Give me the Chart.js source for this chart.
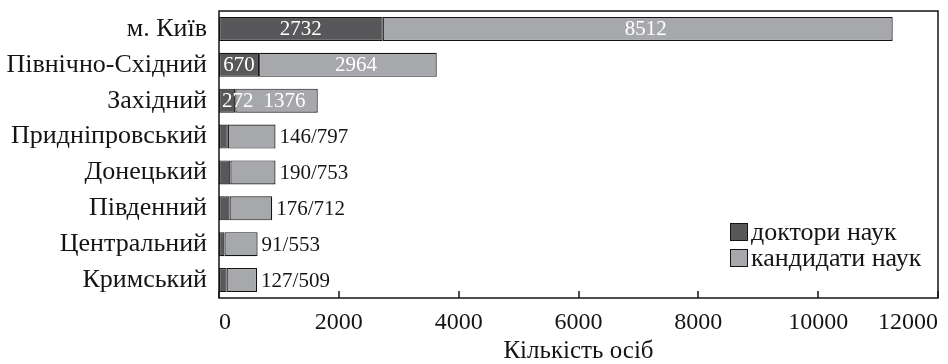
<!DOCTYPE html>
<html>
<head>
<meta charset="utf-8">
<script src="https://cdn.jsdelivr.net/npm/chart.js@4/dist/chart.umd.min.js"></script>
<style>
  body { margin: 0; background: #fff; }
</style>
</head>
<body>
<canvas id="scientistsChart" width="948" height="364"></canvas>
<script>
const regions = ['м. Київ', 'Північно-Східний', 'Західний', 'Придніпровський', 'Донецький', 'Південний', 'Центральний', 'Кримський'];
const doctors = [2732, 670, 272, 146, 190, 176, 91, 127];
const candidates = [8512, 2964, 1376, 797, 753, 712, 553, 509];
const seriesNames = ['доктори наук', 'кандидати наук'];
const axisTitle = 'Кількість осіб';
const xMax = 12000;
const xStep = 2000;

const serif = "'Liberation Serif', 'Times New Roman', serif";
const darkGrey = '#58585b';
const lightGrey = '#a7a8ab';
const ink = '#141414';

// numbers on / next to the bars
const barLabels = {
  id: 'barLabels',
  afterDatasetsDraw(chart) {
    const ctx = chart.ctx;
    const dMeta = chart.getDatasetMeta(0);
    const cMeta = chart.getDatasetMeta(1);
    ctx.save();
    ctx.font = '21px ' + serif;
    ctx.textBaseline = 'middle';
    regions.forEach((r, i) => {
      const d = dMeta.data[i];
      const c = cMeta.data[i];
      const y = d.y + 1;
      if (c.x - d.base > 80) {
        ctx.fillStyle = '#fff';
        const dw = ctx.measureText(String(doctors[i])).width;
        if (d.x - d.base > dw + 6) {
          ctx.textAlign = 'center';
          ctx.fillText(doctors[i], (d.x + d.base) / 2, y);
        } else {
          ctx.textAlign = 'left';
          ctx.fillText(doctors[i], d.base + 3, y);
        }
        ctx.textAlign = 'center';
        ctx.fillText(candidates[i], (c.x + c.base) / 2 + 8, y);
      } else {
        ctx.fillStyle = ink;
        ctx.textAlign = 'left';
        ctx.fillText(doctors[i] + '/' + candidates[i], c.x + 4, y);
      }
    });
    ctx.restore();
  }
};

// box around plot, inward ticks, legend in the lower right corner
const frame = {
  id: 'frame',
  afterDraw(chart) {
    const ctx = chart.ctx;
    const a = chart.chartArea;
    const xs = chart.scales.x;
    ctx.save();
    ctx.strokeStyle = ink;
    ctx.lineWidth = 1.5;
    ctx.strokeRect(a.left, a.top, a.right - a.left, a.bottom - a.top);
    ctx.beginPath();
    xs.ticks.forEach((t, i) => {
      const px = Math.round(xs.getPixelForTick(i));
      ctx.moveTo(px, a.bottom);
      ctx.lineTo(px, a.bottom - 7);
    });
    ctx.stroke();

    const lx = a.right - 208;
    const ly = a.bottom - 75;
    ctx.font = '26px ' + serif;
    ctx.textBaseline = 'middle';
    ctx.textAlign = 'left';
    [darkGrey, lightGrey].forEach((col, i) => {
      const top = ly + i * 26;
      ctx.fillStyle = col;
      ctx.fillRect(lx, top, 18, 18);
      ctx.lineWidth = 1;
      ctx.strokeStyle = ink;
      ctx.strokeRect(lx + 0.5, top + 0.5, 17, 17);
      ctx.fillStyle = ink;
      ctx.fillText(seriesNames[i], lx + 21, top + 10);
    });
    ctx.restore();
  }
};

const data = {
  labels: regions,
  datasets: [{
    label: seriesNames[0],
    data: doctors,
    backgroundColor: darkGrey,
    borderColor: ink,
    borderWidth: 1.2,
    borderSkipped: false
  },
  {
    label: seriesNames[1],
    data: candidates,
    backgroundColor: lightGrey,
    borderColor: ink,
    borderWidth: 1.2,
    borderSkipped: false
  }]
};

const config = {
  type: 'bar',
  data: data,
  options: {
    indexAxis: 'y',
    responsive: false,
    animation: false,
    devicePixelRatio: 1,
    layout: { padding: { top: 11, right: 10, left: 0, bottom: 0 } },
    datasets: { bar: { barPercentage: 0.67, categoryPercentage: 1 } },
    plugins: {
      legend: { display: false },
      tooltip: { enabled: false }
    },
    scales: {
      x: {
        stacked: true,
        min: 0,
        max: xMax,
        grid: { display: false, drawTicks: false },
        border: { display: false },
        ticks: {
          stepSize: xStep,
          align: 'inner',
          padding: 10,
          color: ink,
          font: { family: serif, size: 24 },
          callback: v => String(v)
        },
        title: {
          display: true,
          text: axisTitle,
          color: ink,
          font: { family: serif, size: 25, lineHeight: 1 },
          padding: { top: 0, bottom: 0 }
        },
        afterFit(scale) {
          scale.height = 66;
          scale.paddingLeft = 0;
          scale.paddingRight = 0;
        }
      },
      y: {
        stacked: true,
        grid: { display: false, drawTicks: false },
        border: { display: false },
        ticks: {
          autoSkip: false,
          padding: 12,
          color: ink,
          font: { family: serif, size: 26 }
        },
        afterFit(scale) {
          scale.width = 219;
          scale.paddingTop = 0;
          scale.paddingBottom = 0;
        }
      }
    }
  },
  plugins: [barLabels, frame]
};

const scientistsChart = new Chart(document.getElementById('scientistsChart'), config);
</script>
</body>
</html>
